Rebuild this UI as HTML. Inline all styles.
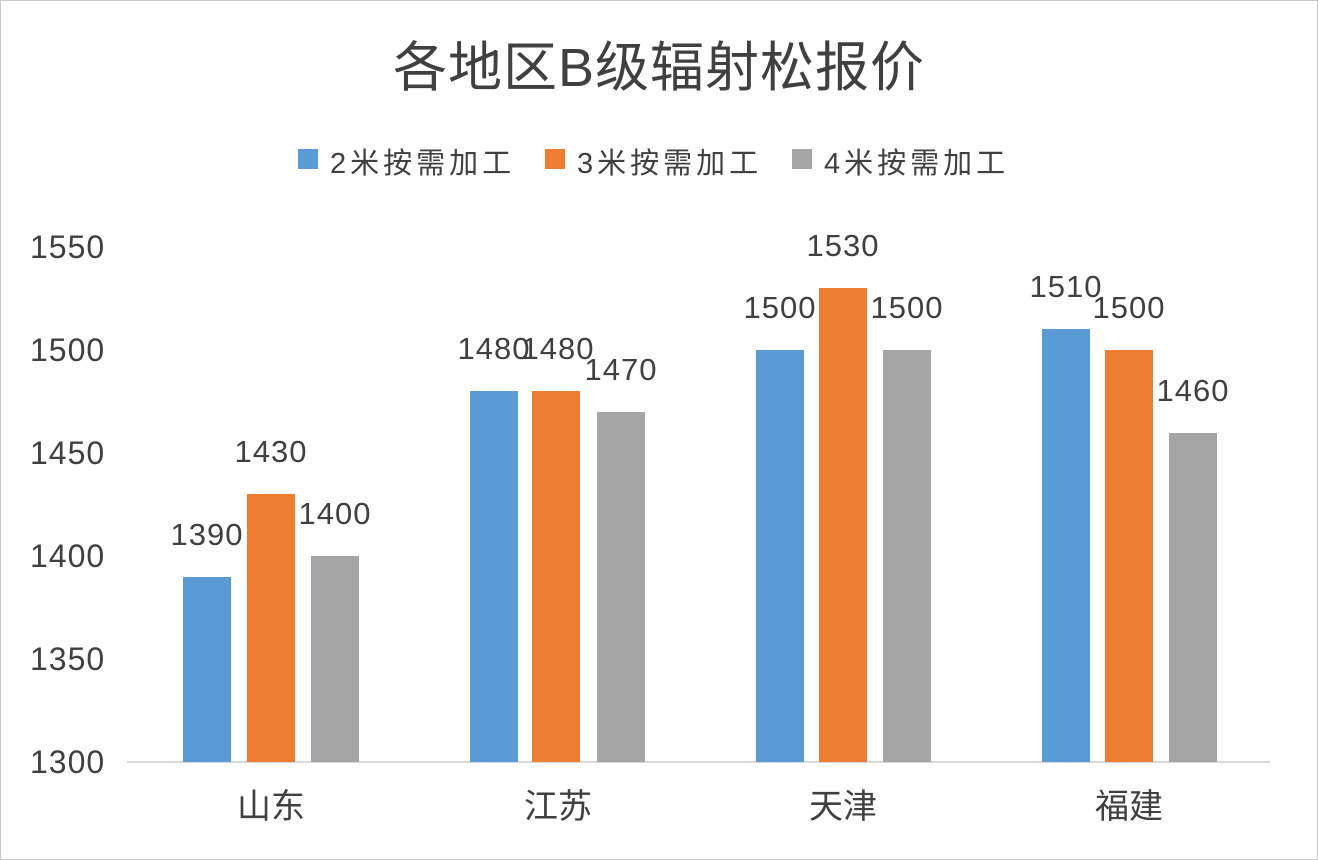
<!DOCTYPE html>
<html><head><meta charset="utf-8"><style>
html,body{margin:0;padding:0;background:#fff;}
svg{display:block;}
text{font-family:"Liberation Sans","Noto Sans CJK SC",sans-serif;fill:#404040;}
</style></head><body>
<svg width="1318" height="860" xmlns="http://www.w3.org/2000/svg">
<rect x="0.5" y="0.5" width="1317" height="859" fill="#fff" stroke="#c8c8c8"/>
<text x="659" y="86" font-size="54" text-anchor="middle" fill="#595959" letter-spacing="1">各地区B级辐射松报价</text>
<g font-size="29" letter-spacing="4">
<rect x="298" y="149" width="20" height="20" fill="#5B9BD5"/><text x="330" y="173">2米按需加工</text>
<rect x="545" y="149" width="20" height="20" fill="#ED7D31"/><text x="577" y="173">3米按需加工</text>
<rect x="792" y="149" width="20" height="20" fill="#A5A5A5"/><text x="824" y="173">4米按需加工</text>
</g>
<g font-size="32" text-anchor="start" letter-spacing="1">
<text x="30" y="258">1550</text>
<text x="30" y="361">1500</text>
<text x="30" y="464">1450</text>
<text x="30" y="567">1400</text>
<text x="30" y="670">1350</text>
<text x="30" y="773">1300</text>
</g>
<line x1="127" y1="762" x2="1270" y2="762" stroke="#d9d9d9" stroke-width="2"/>
<g>
<rect x="183" y="577" width="48" height="185" fill="#5B9BD5"/>
<rect x="247" y="494" width="48" height="268" fill="#ED7D31"/>
<rect x="311" y="556" width="48" height="206" fill="#A5A5A5"/>
<rect x="470" y="391" width="48" height="371" fill="#5B9BD5"/>
<rect x="532" y="391" width="48" height="371" fill="#ED7D31"/>
<rect x="597" y="412" width="48" height="350" fill="#A5A5A5"/>
<rect x="756" y="350" width="48" height="412" fill="#5B9BD5"/>
<rect x="819" y="288" width="48" height="474" fill="#ED7D31"/>
<rect x="883" y="350" width="48" height="412" fill="#A5A5A5"/>
<rect x="1042" y="329" width="48" height="433" fill="#5B9BD5"/>
<rect x="1105" y="350" width="48" height="412" fill="#ED7D31"/>
<rect x="1169" y="433" width="48" height="329" fill="#A5A5A5"/>
</g>
<g font-size="31" text-anchor="middle" letter-spacing="1">
<text x="207" y="545">1390</text>
<text x="271" y="462">1430</text>
<text x="335" y="524">1400</text>
<text x="494" y="359">1480</text>
<text x="558" y="359">1480</text>
<text x="621" y="380">1470</text>
<text x="780" y="318">1500</text>
<text x="843" y="256">1530</text>
<text x="907" y="318">1500</text>
<text x="1066" y="297">1510</text>
<text x="1129" y="318">1500</text>
<text x="1193" y="401">1460</text>
</g>
<g font-size="34" text-anchor="middle">
<text x="271" y="818">山东</text>
<text x="558" y="818">江苏</text>
<text x="843" y="818">天津</text>
<text x="1129" y="818">福建</text>
</g>
</svg>
</body></html>
